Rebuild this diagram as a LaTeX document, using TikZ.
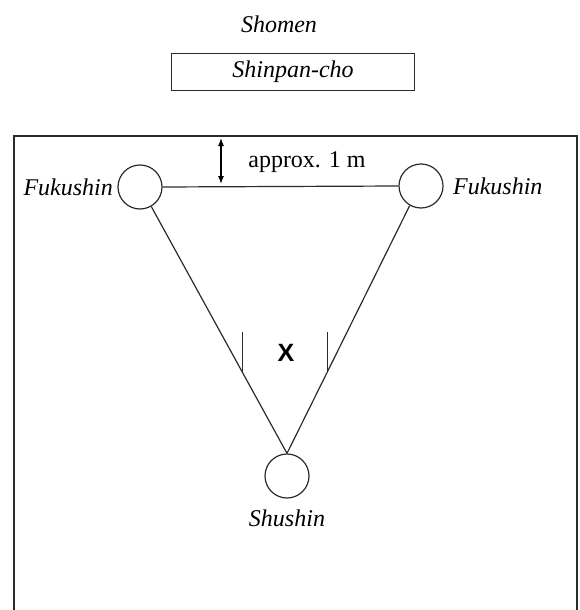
\documentclass[tikz,border=0pt]{standalone}
\usepackage{fontspec}
\setmainfont{Liberation Serif}
\setsansfont{Liberation Sans}
\usetikzlibrary{arrows.meta, positioning}
\definecolor{linea}{HTML}{2B2B2B}

\begin{document}
\begin{tikzpicture}[x=1pt, y=-1pt, >=Latex,
        every node/.style={font=\fontsize{24}{27}\selectfont},
        lbl/.style={font=\fontsize{24}{27}\selectfont\itshape},
        ref/.style={circle, draw=linea, line width=1.2pt, minimum size=44pt, inner sep=0pt},
        mesa/.style={draw=linea, line width=1.4pt, minimum width=243pt, minimum height=37pt, inner sep=0pt},
        dim/.style={{Latex[length=8pt,width=6pt]}-{Latex[length=8pt,width=6pt]}, line width=1.2pt}]
        \useasboundingbox (0,0) rectangle (580,610);
        % court and officials' table
        \node[lbl] (shomen) at (279,24) {Shomen};
        \node[mesa, lbl] (cho) at (293,72) {Shinpan-cho};
        \draw[linea, line width=1.4pt] (14,615) -- (14,136) -- (577,136) -- (577,615);
        % referees
        \node[ref] (fl) at (140,187) {};
        \node[ref] (fr) at (421,186) {};
        \node[ref] (sh) at (287,476) {};
        \node[lbl, left=1pt of fl]  (fll) {Fukushin};
        \node[lbl, right=6pt of fr] (frl) {Fukushin};
        \node[lbl, below=8pt of sh] (shl) {Shushin};
        \draw[linea, line width=1.2pt] (fl.east) -- (fr.west);
        \draw[linea, line width=1.2pt] (fl.-60) -- coordinate[pos=0.672] (tl) (sh.north);
        \draw[linea, line width=1.2pt] (fr.240) -- coordinate[pos=0.672] (tr) (sh.north);
        \foreach \t in {tl,tr} \draw[linea, line width=1.2pt] (\t) -- ++(0,-40);
        \node[font=\sffamily\bfseries\fontsize{25}{28}\selectfont] (x) at (286,353) {X};
        % distance to the line
        \coordinate (a1) at (221,138);
        \coordinate (a2) at (221,184);
        \draw[dim] (a1) -- (a2);
        \node (dist) at (307,162) {approx. 1 m};
    \end{tikzpicture}
\end{document}
